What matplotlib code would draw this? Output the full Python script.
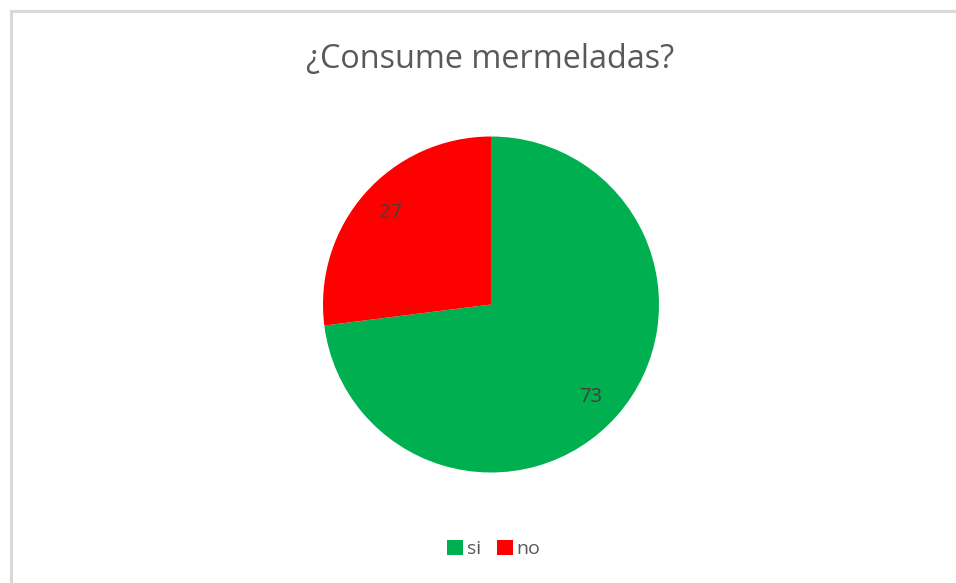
import matplotlib
matplotlib.use("Agg")
import matplotlib.pyplot as plt
from matplotlib.patches import Patch
from matplotlib.lines import Line2D

categories = ["si", "no"]
values = [73, 27]
colors = ["#00B050", "#FF0000"]
title = "¿Consume mermeladas?"

W, H = 956, 583
fig = plt.figure(figsize=(W/100, H/100), dpi=100)
fig.patch.set_facecolor("white")

# border (top and left visible)
fig.add_artist(Line2D([11/W, 1], [1-11/H, 1-11/H], color="#D9D9D9", lw=2.2, transform=fig.transFigure))
fig.add_artist(Line2D([11/W, 11/W], [1-11/H, 0], color="#D9D9D9", lw=2.2, transform=fig.transFigure))

cx, cy, r = 491, 304.5, 168
ax = fig.add_axes([(cx-r)/W, 1-(cy+r)/H, 2*r/W, 2*r/H])
wedges, texts = ax.pie(values, colors=colors, startangle=90, counterclock=False,
                       radius=1.0, wedgeprops=dict(linewidth=0))
ax.set_xlim(-1, 1); ax.set_ylim(-1, 1)
ax.set_aspect("equal")
ax.axis("off")

# data labels
label_pos = [(591, 397), (390, 213)]
for (px, py), v in zip(label_pos, values):
    fig.text(px/W, 1-py/H, str(v), ha="center", va="center", fontsize=14.5,
             color="#404040", family="Open Sans")

fig.text(490/W, 1-60/H, title, ha="center", va="center", fontsize=23.3,
         color="#595959", family="Open Sans")

handles = [Patch(facecolor=c, edgecolor="none") for c in colors]
leg = fig.legend(handles, categories, loc="center", bbox_to_anchor=(494/W, 1-549/H),
                 ncol=2, frameon=False, handlelength=0.82, handleheight=0.82,
                 handletextpad=0.2, columnspacing=0.8, borderpad=0,
                 prop=dict(family="Open Sans", size=14))
for t in leg.get_texts():
    t.set_color("#595959")

fig.savefig("out.png", dpi=100, facecolor="white")
